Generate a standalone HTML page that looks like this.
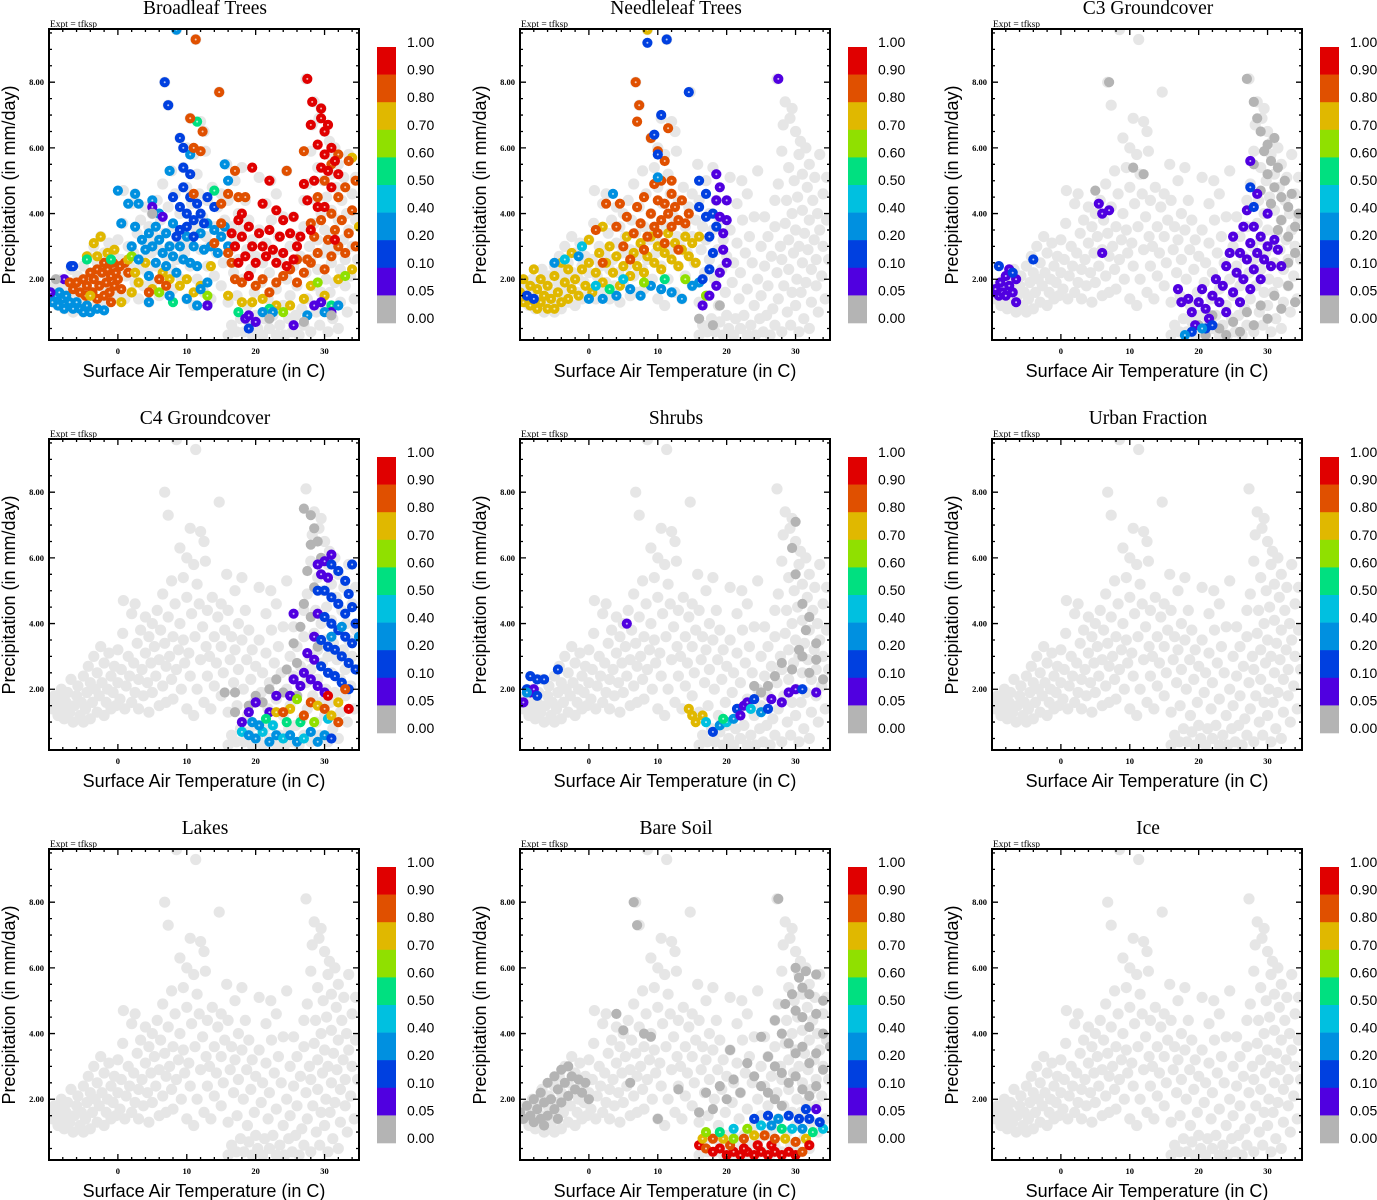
<!DOCTYPE html>
<html><head><meta charset="utf-8"><title>Land cover fractions vs temperature and precipitation</title>
<style>html,body{margin:0;padding:0;background:#fff;}svg{display:block;}</style></head>
<body>
<svg id="fig" width="1377" height="1200" viewBox="0 0 1377 1200" xmlns="http://www.w3.org/2000/svg"></svg>
<script>
// ---- data ----
const xTicks = [0, 10, 20, 30];
const yTicks = [2, 4, 6, 8];
const yTickLabels = ["2.00", "4.00", "6.00", "8.00"];
const cbLabels = ["1.00","0.90","0.80","0.70","0.60","0.50","0.40","0.20","0.10","0.05","0.00"];
const cbColors = ["#e00000","#e05000","#e0b800","#90e000","#00e080","#00c0e0","#0090e0","#0040e0","#5000e0","#b4b4b4"];
const panelTitles = ["Broadleaf Trees","Needleleaf Trees","C3 Groundcover","C4 Groundcover","Shrubs","Urban Fraction","Lakes","Bare Soil","Ice"];
const cloud = [[-9.8,1.6],[-9.5,1.4],[-9.2,1.8],[-9,1.5],[-8.7,1.2],[-8.5,1.7],[-8.2,2.0],[-8,1.4],[-7.8,1.1],[-7.5,1.6],[-7.3,1.9],[-7,1.3],[-6.8,2.3],[-6.5,1.0],[-6.3,1.5],[-6,1.8],[-5.8,2.1],[-5.5,1.2],[-5.3,1.6],[-5,2.4],[-5,1.0],
[-4.7,1.4],[-4.5,1.9],[-4.3,2.7],[-4,1.1],[-4,2.2],[-3.7,1.6],[-3.5,3.0],[-3.3,2.0],[-3,1.3],[-3,2.5],[-2.7,1.8],[-2.5,3.3],[-2.3,2.2],[-2,1.2],[-2,2.8],[-1.7,1.6],[-1.5,2.0],[-1.3,3.1],[-1,2.4],[-1,1.4],[-0.7,1.9],[-0.5,2.7],[-0.3,1.5],[0,2.2],[0,3.2],
[0.3,1.7],[0.5,2.6],[0.7,3.7],[0.8,4.7],[1,1.4],[1.2,2.1],[1.5,3.0],[1.7,2.4],[2,1.6],[2,4.3],[2.3,2.8],[2.5,1.9],[2.5,4.6],[2.8,3.4],[3,2.3],[3,1.4],[3.3,3.8],[3.5,2.6],[3.7,1.8],[4,3.1],[4,4.2],[4.3,2.2],[4.5,1.3],[4.5,3.6],[4.8,2.8],
[5,1.9],[5,4.0],[5.3,3.3],[5.5,2.4],[5.7,4.4],[6,1.5],[6,2.9],[6.2,3.8],[6.5,2.1],[6.5,4.9],[6.8,3.4],[6.8,8.0],[7,1.6],[7,2.7],[7.3,4.2],[7.3,7.3],[7.5,3.0],[7.8,2.3],[7.8,5.3],[8,3.6],[8,1.7],[8.3,4.6],[8.5,2.6],[8.5,9.6],[8.8,3.2],[9,6.3],[9,4.0],[9.2,2.0],[9.5,3.5],[9.5,5.4],[9.7,2.8],[10,4.8],[10,1.4],[10,6.0],
[10.3,3.1],[10.5,2.4],[10.5,6.9],[10.7,4.3],[11,1.2],[11,5.8],[11.2,3.6],[11.3,9.3],[11.5,2.0],[11.5,5.2],[11.8,4.6],[12,2.9],[12,6.8],[12.3,3.9],[12.5,1.6],[12.5,6.5],[12.7,5.9],[12.8,3.3],[13,2.4],[13,4.4],[13.3,3.0],[13.5,1.4],[13.7,4.8],[14,3.6],[14,2.1],[14.3,2.8],[14.5,4.2],[14.7,7.7],[15,3.3],[15,1.8],[15,4.6],
[15.3,2.5],[15.5,3.8],[15.8,5.5],[16,1.3],[16,0.3],[16,4.4],[16.3,2.9],[16.5,3.6],[16.5,0.6],[16.8,2.2],[17,5.0],[17,3.2],[17.2,0.4],[17.3,1.5],[17.5,4.0],[17.5,2.6],[17.8,0.8],[18,3.5],[18,5.4],[18.2,2.0],[18.3,0.4],[18.5,4.4],[18.7,2.9],[18.8,1.2],[19,3.8],[19,0.7],[19.3,2.3],[19.5,3.2],[19.5,0.3],[19.8,1.6],[20,0.9],[20,2.7],
[20.3,0.5],[20.5,3.5],[20.5,5.1],[20.8,1.9],[21,0.3],[21,2.5],[21.3,0.8],[21.5,3.1],[21.5,4.3],[21.8,1.4],[22,0.5],[22,2.2],[22.2,5.0],[22.3,3.8],[22.5,0.9],[22.7,2.8],[23,0.3],[23,4.6],[23,1.7],[23.3,3.3],[23.5,0.6],[23.7,2.5],[24,1.2],[24,3.9],[24.2,0.3],[24.5,2.0],[24.5,5.3],[24.8,0.8],[25,3.0],[25,1.5],[25.3,0.4],[25.5,2.4],[25.5,3.9],[25.8,0.9],[26,1.8],[26,3.3],[26.3,0.3],[26.5,2.7],[26.7,1.1],[27,0.6],[27,4.4],[27,3.6],
[27.3,2.2],[27.3,8.1],[27.5,1.4],[27.5,4.9],[27.8,3.0],[28,0.4],[28,2.6],[28,5.9],[28.2,6.7],[28.3,1.8],[28.5,3.7],[28.5,7.4],[28.7,4.4],[28.8,1.0],[29,2.3],[29,5.4],[29,3.2],[29.2,6.9],[29.3,0.6],[29.5,1.6],[29.5,4.0],[29.5,7.2],[29.7,2.8],[29.8,5.0],[30,3.5],[30,1.2],[30,6.5],[30.2,2.0],[30.3,4.5],[30.5,0.4],[30.5,5.8],[30.5,3.0],[30.7,6.2],[30.8,1.6],[31,2.5],[31,4.1],[31,5.2],[31.2,0.8],[31.3,3.4],[31.5,6.0],[31.5,1.9],[31.7,4.8],[31.8,2.9],[32,0.5],[32,3.8],[32,5.5],[32.3,1.3],[32.3,2.3],[32.5,4.4],[32.7,3.2],[32.8,5.1],[33,1.8],[33,2.6],[33.2,4.0],[33.3,1.0],[33.5,3.5],[33.5,5.8],[33.8,2.1],[34,4.6],[34,3.0],[34.3,1.4],[34.5,3.8],[34.5,5.1],[34.8,2.6]];

const broadleaf = [[-9.8,1.6,.3],[-9.5,1.3,.3],[-9,1.5,.3],[-8.7,1.2,.3],[-8.5,1.6,.3],[-8,1.4,.3],[-7.8,1.1,.3],[-7.5,1.5,.3],[-7,1.3,.3],[-6.5,1.1,.3],[-6,1.3,.3],[-5.5,1.1,.3],[-5,1.0,.3],[-4.5,1.2,.3],[-4,1.0,.3],[-3,1.1,.3],[-2,1.05,.3],
[-9.8,1.6,.05],[-7.8,2.0,.05],[-6.8,2.4,.1],
[-6.5,1.7,.85],[-6,1.9,.85],[-5.5,1.6,.85],[-5,2.0,.85],[-4.7,1.5,.85],[-4.5,1.8,.85],[-4,2.2,.85],[-3.7,1.6,.85],[-3.5,2.0,.85],[-3,1.4,.85],[-3,2.3,.85],[-2.7,1.8,.85],[-2.3,2.2,.85],[-2,1.5,.85],[-2,2.5,.85],[-1.7,1.9,.85],[-1.5,2.3,.85],[-1.2,1.6,.85],[-1,2.1,.85],[-0.7,2.5,.85],[-0.5,1.8,.85],[-0.3,2.2,.85],[0,2.0,.85],[0.3,2.4,.85],[0.5,1.7,.85],[1,2.5,.85],[1.5,2.2,.85],[-1,1.3,.85],
[-4.5,2.7,.75],[-3.5,3.1,.75],[-2.5,3.3,.75],[-3,2.7,.75],[-1.5,2.8,.75],[-0.5,2.9,.75],[1.5,2.6,.75],[2,1.6,.75],[3,1.9,.75],[2.5,2.2,.75],[4,2.5,.75],[5,1.7,.75],[6.5,2.2,.75],[7.5,2.0,.75],[9,1.8,.75],[10,2.0,.75],[11,1.6,.75],[12,1.8,.75],[13.5,2.4,.75],[16,1.5,.75],[18,1.3,.75],[19.5,1.3,.75],[21,1.4,.75],[23,1.2,.75],[25,1.2,.75],[27,1.4,.75],[28,1.8,.75],[30,1.5,.75],[32,2.0,.75],[34,2.3,.75],[34,5.7,.75],[35,3.6,.75],[0.5,1.3,.75],[-4,1.5,.75],
[-4.5,2.6,.55],[-1,2.6,.55],[2,2.7,.65],[6,1.6,.65],[8,1.3,.55],[14,4.7,.55],[13,1.5,.65],[11.5,6.8,.5],[17.5,1.0,.55],[22,1.1,.55],[29,1.9,.65],[31,1.2,.55],[33,2.1,.65],[24,1.0,.65],
[2,3.0,.3],[2.5,3.6,.3],[3,2.6,.3],[3.5,3.2,.3],[4,2.9,.3],[4.5,3.4,.3],[4.5,2.1,.3],[5,3.0,.3],[5.5,3.6,.3],[5.5,2.5,.3],[6,3.2,.3],[6,4.0,.3],[6.5,2.8,.3],[7,3.4,.3],[7,2.4,.3],[7.5,3.0,.3],[8,2.7,.3],[8,3.7,.3],[8.5,2.2,.3],[9,3.0,.3],[9.5,2.6,.3],[10,3.3,.3],[10.5,2.5,.3],[11,3.0,.3],[11.5,2.4,.3],[12,3.4,.3],[12.5,2.9,.3],[13,3.7,.3],[13.5,3.0,.3],[14,3.5,.3],[14.5,2.8,.3],[15,3.3,.3],[15.5,3.6,.3],[16,3.0,.3],[3,4.3,.3],[0,4.7,.3],[0.5,3.7,.3],[1.5,4.3,.3],[2.5,4.6,.3],[5,4.4,.3],[7.5,5.3,.3],[16,5.0,.3],[15.5,5.5,.3],[8.5,9.6,.3],[10.5,5.8,.3],[7.5,1.5,.3],[10,1.4,.3],[11.5,1.2,.3],[4.5,1.3,.35],[13,1.9,.3],[12,1.7,.3],
[6.8,8.0,.15],[7.3,7.3,.15],[9,6.3,.15],[9.5,6.0,.15],[10.5,5.2,.15],[9.5,5.4,.15],[8,4.5,.15],[9,4.2,.15],[9.5,4.8,.15],[10,4.0,.15],[10.5,4.5,.15],[11,3.8,.15],[11.5,4.3,.15],[12,4.0,.15],[9,3.5,.15],[10,3.6,.15],[11,3.3,.15],[12.5,3.7,.15],[13,4.5,.15],[14,4.2,.15],[8.5,3.3,.15],[-6.5,2.4,.15],[13,1.2,.15],[19,0.5,.1],
[10.5,6.9,.85],[11.3,9.3,.85],[12.3,6.5,.85],[14.7,7.7,.85],[11,6.0,.85],[12,5.9,.85],[11,4.6,.85],[15,4.3,.85],[16,4.6,.85],[17,5.3,.85],[17.5,4.5,.85],[18.5,4.5,.85],[24.5,5.3,.85],[27,5.9,.85],[15,3.7,.85],[16.5,2.5,.85],[17,2.0,.85],[18,1.9,.85],[19,2.1,.85],[20,1.8,.85],[21,2.0,.85],[22,1.6,.85],[23,1.9,.85],[24,2.1,.85],[25,2.3,.85],[26,1.9,.85],[27,2.2,.85],[28,2.5,.85],[28.5,3.3,.85],[29,2.8,.85],[29.5,3.8,.85],[30,2.3,.85],[30.5,3.2,.85],[31,4.0,.85],[31,2.7,.85],[31.5,3.5,.85],[32,4.5,.85],[32,3.0,.85],[32.5,3.8,.85],[33,4.8,.85],[33,2.8,.85],[33.5,3.4,.85],[34,4.1,.85],[34.5,3.0,.85],[34.5,5.0,.85],[30,5.0,.85],[31,5.5,.85],[32,5.8,.85],[29,4.5,.85],[28,3.7,.85],[33.5,5.6,.85],[27.5,2.6,.85],[26,2.6,.85],[16,2.8,.85],[14,3.1,.85],[4.5,1.6,.85],[6,2.0,.85],[7,1.8,.85],[-7,1.9,.85],
[16.5,3.4,.95],[17,3.0,.95],[17.5,3.8,.95],[18,3.3,.95],[18,4.0,.95],[18.5,2.7,.95],[19,3.6,.95],[19.5,3.0,.95],[19.5,5.4,.95],[20,2.5,.95],[20.5,3.4,.95],[21,3.0,.95],[21,4.3,.95],[21.5,2.7,.95],[22,3.5,.95],[22,5.0,.95],[22.5,2.9,.95],[23,4.1,.95],[23,2.5,.95],[23.5,3.3,.95],[24,2.8,.95],[24,3.8,.95],[24.5,2.4,.95],[25,3.4,.95],[25.5,2.6,.95],[25.5,3.9,.95],[26,3.0,.95],[26.5,3.3,.95],[27,4.9,.95],[27.5,4.4,.95],[27.5,8.1,.95],[28,6.7,.95],[28.2,7.4,.95],[28.5,5.0,.95],[29,6.1,.95],[29,4.2,.95],[29.5,6.9,.95],[29.5,7.2,.95],[29.5,5.4,.95],[30,6.5,.95],[30,4.2,.95],[30,5.8,.95],[30.5,6.7,.95],[30.5,5.3,.95],[31,6.0,.95],[31,4.8,.95],[31.5,5.6,.95],[32,5.2,.95],[31.5,3.2,.95],[28,3.5,.95],[17.5,2.5,.95],[19,2.1,.95],
[18.5,0.8,.05],[19,0.9,.05],[20,0.7,.05],[25.5,0.6,.05],[28.5,1.2,.05],[31,1.0,.05],[29.5,1.3,.05],[5,4.2,.05],[6.5,3.9,.05],[13,1.2,.05],
[21,1.0,.3],[30,1.0,.35],[32,1.2,.3],[27.5,0.9,.3],[22.5,1.0,.35],
[22,0.8,.02],[27,0.7,.02],[31,0.9,.02],[-9,2.0,.02],[5,4.0,.02]];

const needleleaf = [[-10,1.6,.75],[-9.5,1.3,.75],[-9.5,2.0,.75],[-9,1.5,.75],[-8.5,1.2,.75],[-8.5,1.8,.75],[-8,1.4,.75],[-8,2.3,.75],[-7.5,1.1,.75],[-7.5,1.7,.75],[-7,1.3,.75],[-7,2.0,.75],[-6.5,1.5,.75],[-6,1.1,.75],[-6,1.8,.75],[-5.5,1.4,.75],[-5,1.1,.75],[-5,2.1,.75],[-4.5,1.6,.75],[-4,1.3,.75],[-4,2.5,.75],[-3.5,1.9,.75],[-3,1.4,.75],[-3,2.3,.75],[-2.5,1.7,.75],[-2,2.0,.75],[-1.5,1.5,.75],[-1,2.3,.75],[-0.5,1.8,.75],[0,2.5,.75],[0.5,1.6,.75],[1,2.2,.75],[1.5,2.8,.75],[2,1.9,.75],[2.5,2.5,.75],[3,3.0,.75],[3.5,2.2,.75],[4,2.7,.75],[4.5,1.8,.75],[5,2.4,.75],[5.5,3.3,.75],[6,2.1,.75],[6.5,2.8,.75],[7,2.4,.75],[7.5,3.1,.75],[8,2.2,.75],[8.5,2.7,.75],[9,3.3,.75],[9.5,2.5,.75],[10,3.0,.75],[10.5,2.3,.75],[11,2.8,.75],[11.5,3.4,.75],[12,2.6,.75],[12.5,3.1,.75],[13,2.4,.75],[13.5,2.9,.75],[14,3.3,.75],[14.5,2.7,.75],[15,3.1,.75],[16,3.3,.75],[15.5,2.5,.75],[0,3.2,.75],[2,3.6,.75],[8.5,9.6,.75],[-2.5,2.8,.75],
[-5,2.5,.3],[-3.5,2.6,.4],[-1.5,2.7,.3],[0,1.4,.3],[2,1.4,.3],[4,1.5,.3],[6,1.7,.3],[7.5,1.5,.3],[9,1.8,.3],[10.5,1.7,.3],[12,1.6,.3],[13.5,1.4,.3],[15,1.8,.3],[16,1.9,.3],[5,2.0,.4],[1,1.8,.4],[3,1.7,.55],[11,2.0,.55],[14,2.0,.65],[17,1.5,.65],[8,1.9,.65],[3.5,4.6,.3],[-1,3.0,.4],
[1,3.5,.85],[2.5,4.3,.85],[4,3.6,.85],[4.5,4.3,.85],[5.5,3.9,.85],[6.5,3.4,.85],[6.8,8.0,.85],[7,4.2,.85],[7,6.8,.85],[7.3,7.3,.85],[7.5,3.7,.85],[8,4.5,.85],[8.5,3.3,.85],[9,4.0,.85],[9,6.3,.85],[9.5,3.6,.85],[9.5,4.9,.85],[10,4.4,.85],[10,3.4,.85],[10.5,5.0,.85],[10.5,3.8,.85],[11,4.3,.85],[11,3.1,.85],[11.5,4.0,.85],[12,4.6,.85],[12,3.6,.85],[12.5,4.2,.85],[13,3.8,.85],[13,2.9,.85],[13.5,4.4,.85],[14,3.7,.85],[14.5,4.0,.85],[11,5.6,.85],[12,5.0,.85],[10,5.9,.85],[5,3.0,.85],[6,2.6,.85],[8,2.9,.85],[2,2.5,.85],[11.5,6.6,.85],
[9.5,6.4,.15],[10,5.8,.15],[10.5,7.0,.15],[11.3,9.3,.15],[14.5,7.7,.15],[8.5,9.2,.15],[16,4.2,.15],[17,4.6,.15],[17,3.9,.15],[17.5,3.3,.15],[18,4.0,.15],[18,2.8,.15],[18.5,3.6,.15],[17.5,2.3,.15],[16.5,2.0,.15],[16,5.0,.15],[-9,1.5,.15],[-8,1.4,.1],[10,5.1,.3],
[18.5,5.2,.05],[19,4.8,.05],[18.5,4.4,.05],[19,3.9,.05],[19.5,3.4,.05],[20,3.8,.05],[19.5,2.9,.05],[20,2.5,.05],[19,2.2,.05],[18.5,1.8,.05],[17.5,1.5,.05],[16.5,1.2,.05],[27.5,8.1,.05],[20,4.4,.05],
[16,0.8,.02],[18,0.6,.02],[19,1.2,.02]];

const c3ground = [[27,8.1,.02],[28,7.4,.02],[28.5,6.9,.02],[29,6.5,.02],[29.5,5.9,.02],[30,6.1,.02],[30,5.2,.02],[30.5,5.6,.02],[31,4.8,.02],[31,6.3,.02],[31.5,5.4,.02],[32,4.5,.02],[32,3.8,.02],[32.5,5.0,.02],[33,4.2,.02],[33,3.3,.02],[33.5,4.6,.02],[34,3.6,.02],[34,2.8,.02],[34.5,4.0,.02],[30.5,4.3,.02],[29,4.7,.02],[31.5,3.5,.02],[33,2.5,.02],[28,5.5,.02],[20,0.6,.02],[21,0.3,.02],[22,0.9,.02],[23,0.5,.02],[24,0.3,.02],[25,0.7,.02],[26,0.4,.02],[27,1.0,.02],[28,0.6,.02],[29,1.2,.02],[30,0.8,.02],[31,1.5,.02],[32,1.1,.02],[33,1.8,.02],[34,1.3,.02],[7,8.0,.02],[10.5,5.4,.02],[12,5.2,.02],[5,4.7,.02],
[-10,1.6,.05],[-9.5,1.7,.05],[-9,1.5,.05],[-8.8,1.9,.05],[-8.5,1.6,.05],[-8,2.1,.05],[-8,1.5,.05],[-7.5,1.8,.05],[-7.5,2.3,.05],[-7,1.6,.05],[-6.5,2.0,.05],[-6.5,1.3,.05],[-9,2.4,.1],[-7,2.2,.1],[-4,2.6,.1],[5.5,4.3,.05],[6,4.0,.05],[7,4.1,.05],[6,2.8,.05],[17,1.7,.05],[17.5,1.3,.05],[18.5,1.4,.05],[19,1.0,.05],[19.5,0.6,.05],[20,1.3,.05],[20.5,1.7,.05],[21,1.1,.05],[21.5,0.8,.05],[22,1.5,.05],[22.5,2.0,.05],[23,1.3,.05],[23.5,1.8,.05],[24,2.4,.05],[24,1.0,.05],[24.5,2.8,.05],[25,1.6,.05],[25,3.3,.05],[25.5,2.2,.05],[26,2.8,.05],[26,1.3,.05],[26.5,3.6,.05],[26.5,2.0,.05],[27,2.6,.05],[27,4.1,.05],[27.5,3.1,.05],[27.5,1.7,.05],[28,2.3,.05],[28,3.6,.05],[28.5,2.8,.05],[28.5,4.6,.05],[29,2.0,.05],[29,3.3,.05],[29.5,2.6,.05],[30,3.0,.05],[30,4.0,.05],[30.5,2.4,.05],[31,3.2,.05],[31.5,2.9,.05],[32,2.4,.05],[27.5,5.6,.05],[21,0.5,.1],[22,0.6,.1],[19,0.4,.1],[18,0.3,.2],[20.5,0.5,.2],[28,4.2,.1],[27.5,4.8,.1]];

const c4ground = [[27,7.5,.02],[28,7.3,.02],[28.5,6.9,.02],[29,6.5,.02],[29.5,6.0,.02],[28,6.4,.02],[27.5,5.6,.02],[28.5,5.1,.02],[27,4.6,.02],[28,4.2,.02],[26.5,3.9,.02],[25.5,3.4,.02],[26,2.8,.02],[24.5,2.6,.02],[23,2.3,.02],[22,2.0,.02],[21,1.6,.02],[17,1.9,.02],[15.5,1.9,.02],[17,1.3,.02],[19,1.5,.02],[20,1.8,.02],[29,3.3,.02],[26,1.8,.02],[24,1.9,.02],
[29,5.8,.05],[29.5,5.5,.05],[30,5.9,.05],[30.5,5.4,.05],[31,5.8,.1],[32,5.6,.1],[33,5.3,.1],[33.5,4.9,.1],[34,4.5,.1],[34.5,4.0,.1],[29,5.0,.1],[30,5.0,.1],[31,4.8,.1],[32,4.6,.15],[33,4.3,.1],[29,4.3,.05],[30,4.2,.15],[31,4.0,.1],[32,3.8,.1],[33,3.6,.1],[34,3.4,.1],[35,3.6,.2],[28.5,3.6,.05],[29.5,3.5,.1],[30.5,3.3,.1],[31.5,3.2,.1],[32.5,3.0,.1],[33.5,2.8,.1],[34.5,2.6,.1],[27.5,3.1,.05],[28.5,2.9,.05],[29.5,2.7,.1],[30.5,2.5,.1],[31.5,2.4,.1],[32.5,2.2,.15],[33.5,2.0,.1],[27,2.5,.05],[28,2.3,.05],[29,2.1,.05],[30,1.9,.05],[26.5,2.1,.05],[25.5,2.3,.05],[25,1.8,.05],[23,1.8,.05],[22,1.3,.05],[20,1.6,.05],[19,1.3,.05],[18,1.0,.05],[25.5,4.3,.05],[34,5.8,.15],[31,6.1,.05],[32.5,3.9,.3],[31,3.6,.3],
[18,0.7,.4],[19,0.6,.3],[20,0.5,.35],[21,0.7,.4],[22,0.4,.3],[23,0.6,.35],[24,0.5,.45],[25,0.6,.3],[26,0.4,.35],[27,0.5,.4],[28,0.7,.3],[29,0.4,.35],[30,0.6,.2],[31,0.5,.15],[20.5,0.9,.3],[22.5,0.9,.4],[24.5,1.0,.55],[26.5,1.0,.5],[28.5,1.0,.65],[30.5,1.1,.4],[23,1.3,.75],[25,1.4,.75],[27,1.2,.85],[28,1.6,.85],[29,1.5,.75],[30,1.4,.85],[31,1.2,.75],[32,1.6,.75],[33,2.0,.85],[33.5,1.4,.95],[32,1.0,.85],[26,1.7,.65],[24,1.3,.85],[21.5,1.1,.55],[30.5,1.8,.95],[19.5,1.0,.3]];

const shrubs = [[30,7.1,.02],[29.5,6.3,.02],[30,5.5,.02],[31,4.6,.02],[32,4.2,.02],[33,3.4,.02],[31.5,3.8,.02],[30.5,3.2,.02],[28,2.8,.02],[27,2.4,.02],[26,2.1,.02],[25,1.9,.02],[29.5,2.6,.02],[32,2.5,.02],[34,2.3,.02],[31,3.0,.02],[33,2.9,.02],[24,2.1,.02],
[-10,1.6,.05],[-9.5,1.6,.05],[-9,2.0,.1],[-8.5,1.9,.05],[-8,2.0,.05],[-7.5,1.8,.1],[-8.5,2.4,.1],[-7.5,2.3,.1],[-6.5,2.3,.1],[-4.5,2.6,.15],[-9,1.9,.2],[5.5,4.0,.05],[14.5,1.4,.75],[15,1.2,.75],[15.5,1.0,.75],[16.5,1.2,.75],[17,1.0,.4],[18,0.7,.15],[19,0.9,.3],[20,1.0,.45],[21,1.1,.3],[21.5,1.4,.1],[22,1.2,.05],[22.5,1.5,.05],[23,1.6,.05],[24,1.7,.1],[25,1.3,.3],[26,1.4,.15],[26.5,1.7,.05],[28,1.6,.05],[29,1.9,.05],[30,2.0,.05],[31,2.0,.1],[33,1.9,.05],[23.5,1.4,.4],[19.5,1.1,.55]];

const urban = [];
const lakes = [];
const ice = [];

const baresoil = [[-10,1.6,.02],[-9.5,1.4,.02],[-9,1.8,.02],[-8.5,1.5,.02],[-8,1.3,.02],[-8,2.0,.02],[-7.5,1.7,.02],[-7,1.4,.02],[-7,2.2,.02],[-6.5,1.9,.02],[-6,1.5,.02],[-6,2.5,.02],[-5.5,2.0,.02],[-5,1.7,.02],[-5,2.7,.02],[-4.5,2.3,.02],[-4,1.9,.02],[-4,2.9,.02],[-3.5,2.5,.02],[-3,2.1,.02],[-3,3.0,.02],[-2.5,2.7,.02],[-2,2.3,.02],[-1.5,2.6,.02],[-1,2.2,.02],[-0.5,2.5,.02],[0,2.0,.02],[-6.5,1.2,.02],[-4.5,1.4,.02],[4,4.6,.02],[5,4.1,.02],[6.5,8.0,.02],[7,7.3,.02],[8,4.0,.02],[9,3.9,.02],[6,2.5,.02],[10,1.4,.02],
[27.5,8.1,.02],[30,6.0,.02],[30.5,5.7,.02],[31,5.4,.02],[31.5,5.9,.02],[32,5.2,.02],[33,5.8,.02],[34,5.0,.02],[29.5,5.2,.02],[28.5,4.9,.02],[30,4.7,.02],[31,4.5,.02],[32,4.2,.02],[33,4.6,.02],[34,4.0,.02],[35,3.6,.02],[27,4.4,.02],[28,4.0,.02],[29,3.7,.02],[30,3.4,.02],[31,3.6,.02],[32,3.1,.02],[33,3.4,.02],[34,2.9,.02],[25,3.9,.02],[26,3.3,.02],[27,3.0,.02],[28,2.8,.02],[29,2.5,.02],[30,2.7,.02],[31,2.3,.02],[32,2.1,.02],[33,2.4,.02],[23,3.1,.02],[24,2.7,.02],[25,2.4,.02],[26,2.2,.02],[27,2.0,.02],[28,1.8,.02],[22,2.2,.02],[21,2.6,.02],[20,2.0,.02],[19,2.4,.02],[18,1.7,.02],[17,2.2,.02],[16,1.6,.02],[20.5,3.5,.02],[13,2.3,.02],
[16,0.6,.95],[17,0.5,.85],[18,0.4,.95],[19,0.5,.95],[20,0.3,.95],[21,0.4,.95],[22,0.3,.95],[23,0.4,.95],[24,0.3,.95],[25,0.4,.95],[26,0.3,.95],[27,0.4,.95],[28,0.3,.95],[29,0.4,.95],[30,0.3,.95],[31,0.4,.85],[22.5,0.5,.95],[24.5,0.6,.95],[26.5,0.6,.95],[20.5,0.6,.85],[16.5,0.8,.75],[18,0.8,.85],[19.5,0.8,.75],[21,0.8,.65],[22.5,0.8,.85],[24,0.9,.75],[25.5,0.9,.85],[27,0.8,.85],[28.5,0.8,.75],[30,0.7,.85],[31.5,0.8,.75],[32,0.6,.95],[17,1.0,.65],[19,1.0,.55],[21,1.1,.45],[23,1.1,.6],[25,1.2,.4],[26.5,1.2,.3],[28,1.1,.55],[29.5,1.1,.45],[31,1.1,.3],[32.5,1.0,.55],[24,1.4,.15],[26,1.5,.15],[27.5,1.4,.3],[29,1.5,.15],[30.5,1.4,.15],[32,1.4,.15],[33,1.7,.05],[34,1.1,.4],[33.5,1.3,.15],[31.5,1.7,.1]];

const panelData = [broadleaf, needleleaf, c3ground, c4ground, shrubs, urban, lakes, baresoil, ice];

// ---- drawing ----
const NS = "http://www.w3.org/2000/svg";
const svg = document.getElementById("fig");
const PL = 49, PR = 359, PT = 29, PB = 340;
const xMin = -10, xMax = 35, yMin = 0.15, yMax = 9.62;
function xs(t) { return PL + (t - xMin) / (xMax - xMin) * (PR - PL); }
function ys(p) { return PB - (p - yMin) / (yMax - yMin) * (PB - PT); }
function colorFor(f) {
  if (f >= 0.9) return cbColors[0];
  if (f >= 0.8) return cbColors[1];
  if (f >= 0.7) return cbColors[2];
  if (f >= 0.6) return cbColors[3];
  if (f >= 0.5) return cbColors[4];
  if (f >= 0.4) return cbColors[5];
  if (f >= 0.2) return cbColors[6];
  if (f >= 0.1) return cbColors[7];
  if (f >= 0.05) return cbColors[8];
  return cbColors[9];
}
function mk(tag, attrs, parent) {
  const e = document.createElementNS(NS, tag);
  for (const k in attrs) e.setAttribute(k, attrs[k]);
  parent.appendChild(e);
  return e;
}
const defs = mk("defs", {}, svg);
const cp = mk("clipPath", {id: "plotclip"}, defs);
mk("rect", {x: PL, y: PT, width: PR - PL, height: PB - PT}, cp);

const colOff = [0, 471, 943], rowOff = [0, 410, 820];
panelTitles.forEach((title, i) => {
  const g = mk("g", {transform: `translate(${colOff[i % 3]},${rowOff[Math.floor(i / 3)]})`}, svg);
  
  

  const tt = mk("text", {x: 205, y: 14, "text-anchor": "middle", "font-family": "Liberation Serif, serif", "font-size": "19.5"}, g);
  tt.textContent = title;
  
  

  const ex = mk("text", {x: 50, y: 27, "font-family": "Liberation Serif, serif", "font-size": "9.5"}, g);
  ex.textContent = "Expt = tfksp";
  
  

  // points
  const pg = mk("g", {"clip-path": "url(#plotclip)"}, g);
  
  
  cloud.forEach(pt => {
    const c = mk("circle", {cx: xs(pt[0]).toFixed(1), cy: ys(pt[1]).toFixed(1), r: 5.6, fill: "#e6e6e6"}, pg);
    
    
  });
  panelData[i].forEach(pt => {
    const cx = xs(pt[0]).toFixed(1), cy = ys(pt[1]).toFixed(1);
    const c = mk("circle", {cx: cx, cy: cy, r: 5.1, fill: colorFor(pt[2])}, pg);
    
    
    if (pt[2] >= 0.05) mk("circle", {cx: cx, cy: cy, r: 1.0, fill: "#fff", opacity: 0.7}, pg);
  });

  // axes frame
  const fr = mk("rect", {x: PL, y: PT, width: PR - PL, height: PB - PT, fill: "none", stroke: "#000", "stroke-width": 2}, g);
  
  
  let d = "";
  for (let t = -10; t <= 34; t += 2) {
    const x = xs(t), L = (t % 10 === 0) ? 6 : 3;
    d += `M${x},${PB}v${-L}M${x},${PT}v${L}`;
  }
  for (let p = 0.5; p <= 9.5; p += 0.5) {
    const y = ys(p), L = (Math.abs(p % 2) < 1e-6) ? 6 : 3;
    d += `M${PL},${y}h${L}M${PR},${y}h${-L}`;
  }
  const tk = mk("path", {d: d, stroke: "#000", "stroke-width": 1.3, fill: "none"}, g);
  
  
  xTicks.forEach(t => {
    const l = mk("text", {x: xs(t), y: 354, "text-anchor": "middle", "font-family": "Liberation Serif, serif", "font-size": "8.5", "font-weight": "bold"}, g);
    l.textContent = String(t);
    
    
  });
  yTicks.forEach((p, k) => {
    const l = mk("text", {x: 44, y: ys(p) + 3, "text-anchor": "end", "font-family": "Liberation Serif, serif", "font-size": "8.5", "font-weight": "bold"}, g);
    l.textContent = yTickLabels[k];
    
    
  });
  const xt = mk("text", {x: 204, y: 377, "text-anchor": "middle", "font-family": "Liberation Sans, sans-serif", "font-size": "18"}, g);
  xt.textContent = "Surface Air Temperature (in C)";
  
  
  const yt = mk("text", {x: 0, y: 0, transform: "translate(15,185) rotate(-90)", "text-anchor": "middle", "font-family": "Liberation Sans, sans-serif", "font-size": "18"}, g);
  yt.textContent = "Precipitation (in mm/day)";
  
  

  // colorbar
  const cb = mk("g", {}, g);
  
  
  const bh = 27.6;
  cbColors.forEach((c, k) => {
    const r = mk("rect", {x: 377, y: 47 + k * bh, width: 19, height: bh + 0.3, fill: c}, cb);
    
    
  });
  cbLabels.forEach((s, k) => {
    const l = mk("text", {x: 407, y: 47 + k * bh, "font-family": "Liberation Sans, sans-serif", "font-size": "14"}, cb);
    l.textContent = s;
    
    
  });
});
</script>
</body></html>
